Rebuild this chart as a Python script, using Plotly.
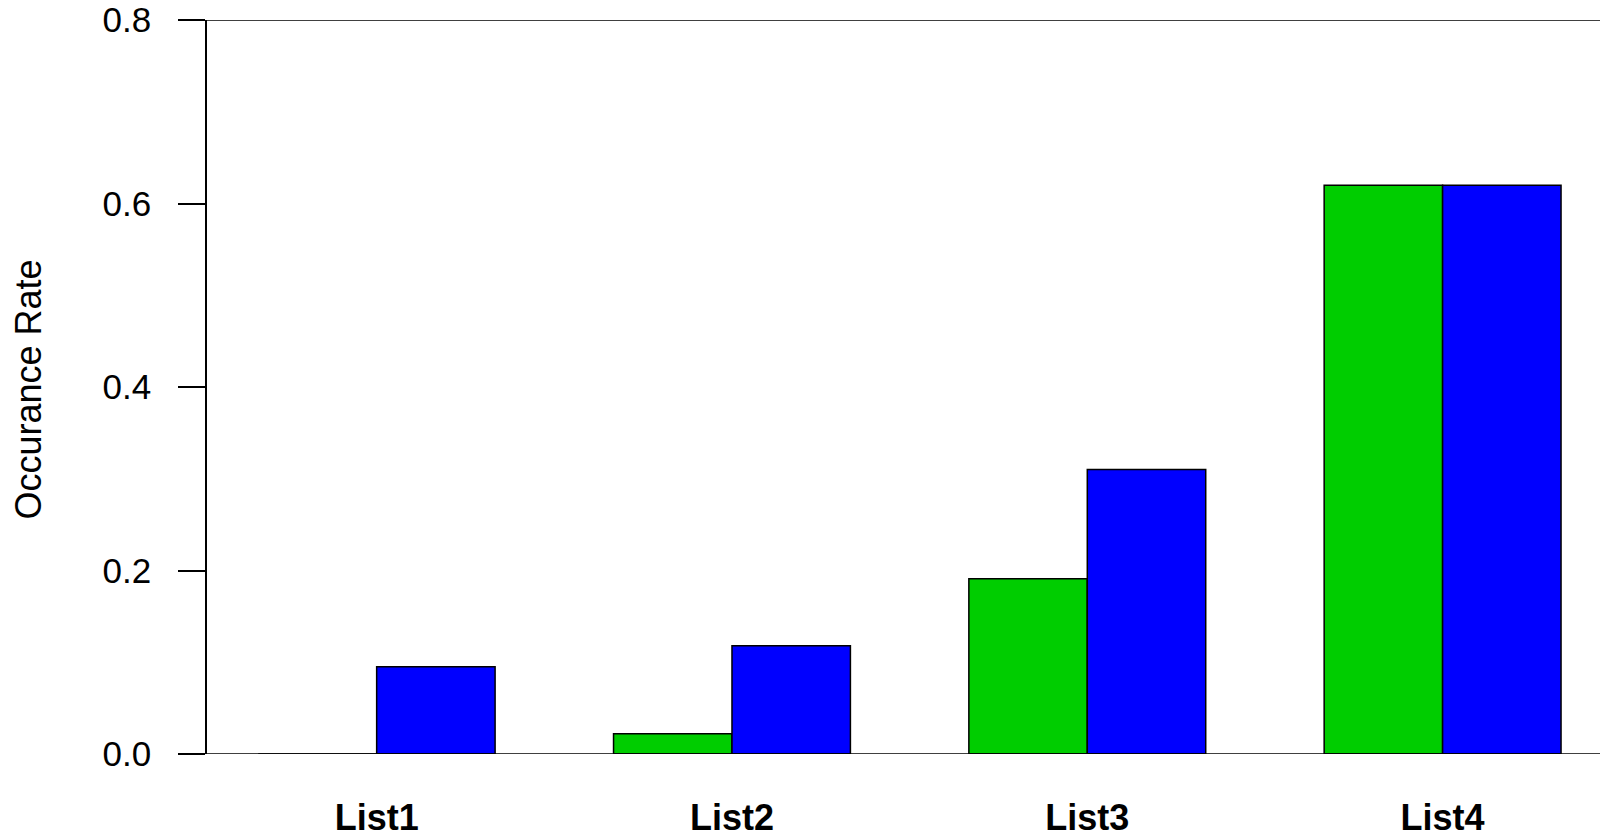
import plotly.graph_objects as go

categories = ["List1", "List2", "List3", "List4"]
green_values = [0.0, 0.022, 0.191, 0.620]
blue_values = [0.095, 0.118, 0.310, 0.620]
y_ticks = [0.0, 0.2, 0.4, 0.6, 0.8]
y_tick_labels = ["0.0", "0.2", "0.4", "0.6", "0.8"]

FONT = "Liberation Sans, Arial, Helvetica, sans-serif"

fig = go.Figure()
fig.add_trace(go.Bar(x=categories, y=green_values, name="green",
                     marker=dict(color="#00CD00", line=dict(color="black", width=1.5))))
fig.add_trace(go.Bar(x=categories, y=blue_values, name="blue",
                     marker=dict(color="#0000FF", line=dict(color="black", width=1.5))))

# horizontal lines at bottom and top of the y range
for yv in (y_ticks[0], y_ticks[-1]):
    fig.add_shape(type="line", xref="paper", yref="y", x0=0, x1=1, y0=yv, y1=yv,
                  line=dict(color="black", width=1.5), layer="above")

fig.add_annotation(text="Occurance Rate", xref="paper", yref="paper",
                   x=(28 - 207) / 1401, y=(754 - 389.5) / 734, textangle=-90,
                   showarrow=False, xanchor="center", yanchor="middle",
                   font=dict(family=FONT, size=36, color="black"))

# page body has an 8px margin; compensate so the plot area sits at 207..1608 x 20..754
fig.update_layout(
    width=1600, height=829,
    margin=dict(l=199, r=0, t=12, b=83, pad=0),
    paper_bgcolor="white", plot_bgcolor="white",
    barmode="group", bargap=1/3, bargroupgap=0,
    showlegend=False,
    font=dict(family=FONT, color="black"),
    xaxis=dict(range=[-0.4775, 3.4655], showgrid=False, zeroline=False, showline=False,
               ticks="", tickfont=dict(family=FONT, size=36, color="black", weight="bold"),
               ticklabelstandoff=39, automargin=False),
    yaxis=dict(range=[-1e-6, 0.800001], showgrid=False, zeroline=False, showline=True,
               linecolor="black", linewidth=1.5, ticks="outside", ticklen=27,
               tickwidth=1.5, tickcolor="black", tickvals=y_ticks, ticktext=y_tick_labels,
               tickfont=dict(family=FONT, size=35, color="black"), ticklabelstandoff=20,
               ticklabeloverflow="allow", automargin=False),
)

fig.write_html("out.html")
